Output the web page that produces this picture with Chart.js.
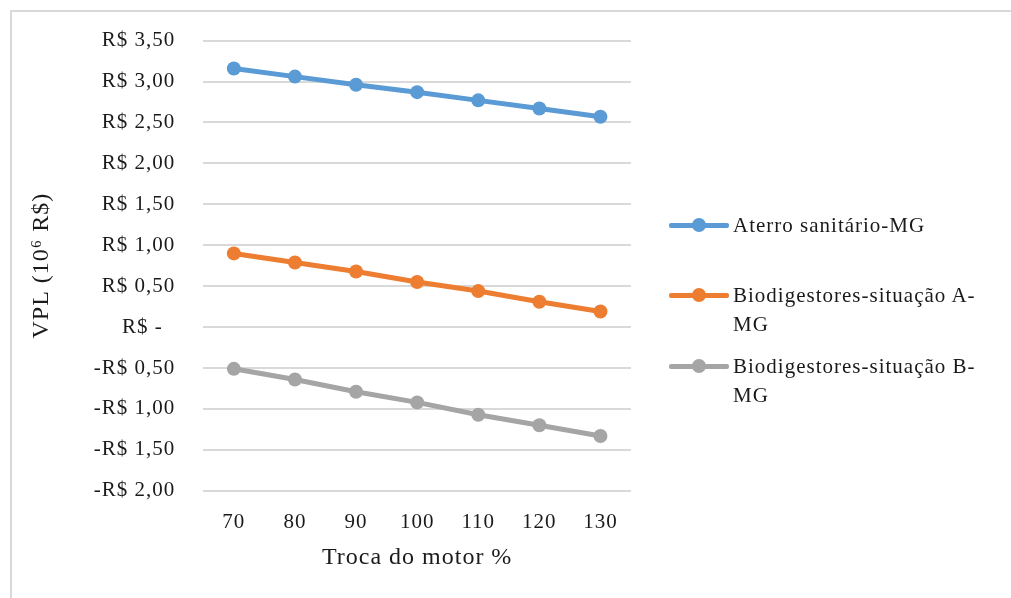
<!DOCTYPE html>
<html>
<head>
<meta charset="utf-8">
<script src="https://cdn.jsdelivr.net/npm/chart.js@4/dist/chart.umd.min.js"></script>
<style>
  body { margin: 0; background: #fff; }
  #wrap { position: relative; width: 1011px; height: 598px; overflow: hidden; }
  #frame { position: absolute; left: 10px; top: 10px; width: 1100px; height: 700px; border: 2px solid #d9d9d9; }
  #chartBox { position: absolute; left: 0; top: 0; width: 1011px; height: 598px; }
  #legend { position: absolute; left: 669px; top: 0; font-family: "Liberation Serif", "Times New Roman", serif; font-size: 21px; letter-spacing: 1px; color: #1a1a1a; }
  .item { position: absolute; left: 0; display: flex; align-items: flex-start; width: 340px; }
  .swatch { position: relative; width: 60px; height: 28px; flex: none; }
  .swatch .ln { position: absolute; left: 0; right: 0; top: 12px; height: 5px; border-radius: 2px; }
  .swatch .dot { position: absolute; left: 23px; top: 7px; width: 14px; height: 14px; border-radius: 50%; }
  .txt { width: 272px; line-height: 29px; margin-left: 4px; }
</style>
</head>
<body>
<div id="wrap">
  <div id="frame"></div>
  <div id="chartBox"><canvas id="vplChart"></canvas></div>
  <div id="legend"></div>
</div>
<script>
const categories = ["70", "80", "90", "100", "110", "120", "130"];
const seriesNames = ["Aterro sanitário-MG", "Biodigestores-situação A-MG", "Biodigestores-situação B-MG"];
const aterro = [3.16, 3.06, 2.96, 2.87, 2.77, 2.67, 2.57];
const bioA = [0.90, 0.79, 0.68, 0.55, 0.44, 0.31, 0.19];
const bioB = [-0.51, -0.64, -0.79, -0.92, -1.07, -1.20, -1.33];
const colors = ["#5b9bd5", "#ed7d31", "#a5a5a5"];
const legendTops = [211, 281, 352];

const FONT = "'Liberation Serif', 'Times New Roman', serif";

// format like Excel accounting: R$ 3,50 / -R$ 0,50 / R$ -
function money(v) {
  if (Math.abs(v) < 1e-9) return "R$ -  ";
  const s = "R$ " + Math.abs(v).toFixed(2).replace(".", ",");
  return v < 0 ? "-" + s : s;
}

// canvas letter spacing has to be set again after every resize
const spacing = {
  id: "spacing",
  beforeUpdate(chart) { chart.ctx.letterSpacing = "1px"; },
  beforeDraw(chart) { chart.ctx.letterSpacing = "1px"; }
};

const allData = [aterro, bioA, bioB];
const datasets = allData.map((d, i) => ({
  label: seriesNames[i],
  data: d,
  borderColor: colors[i],
  backgroundColor: colors[i],
  borderWidth: 5,
  pointRadius: 7,
  pointHoverRadius: 7,
  pointBorderWidth: 0,
  tension: 0
}));

new Chart(document.getElementById("vplChart"), {
  type: "line",
  data: { labels: categories, datasets: datasets },
  plugins: [spacing],
  options: {
    responsive: true,
    maintainAspectRatio: false,
    animation: false,
    layout: { padding: { left: 23, right: 380, top: 36, bottom: 24 } },
    plugins: { legend: { display: false }, tooltip: { enabled: false } },
    scales: {
      x: {
        offset: true,
        grid: { display: false },
        border: { display: false },
        ticks: { color: "#1a1a1a", font: { family: FONT, size: 21 }, padding: 11 },
        title: {
          display: true,
          text: "Troca do motor %",
          color: "#1a1a1a",
          font: { family: FONT, size: 24, lineHeight: 1.0 },
          padding: { top: 0 }
        }
      },
      y: {
        min: -2,
        max: 3.5,
        grid: { color: "#d9d9d9", lineWidth: 2, drawTicks: false },
        border: { display: false },
        ticks: {
          stepSize: 0.5,
          color: "#1a1a1a",
          font: { family: FONT, size: 21 },
          padding: 28,
          callback: (v) => money(v)
        },
        title: {
          display: true,
          text: "VPL (10⁶ R$)",
          color: "#1a1a1a",
          font: { family: FONT, size: 24 },
          padding: { bottom: 10 }
        }
      }
    }
  }
});

// legend drawn as html next to the plot
const legend = document.getElementById("legend");
seriesNames.forEach((name, i) => {
  const item = document.createElement("div");
  item.className = "item";
  item.style.top = legendTops[i] + "px";
  item.innerHTML =
    '<div class="swatch"><div class="ln" style="background:' + colors[i] + '"></div>' +
    '<div class="dot" style="background:' + colors[i] + '"></div></div>' +
    '<div class="txt">' + name + "</div>";
  legend.appendChild(item);
});
</script>
</body>
</html>
